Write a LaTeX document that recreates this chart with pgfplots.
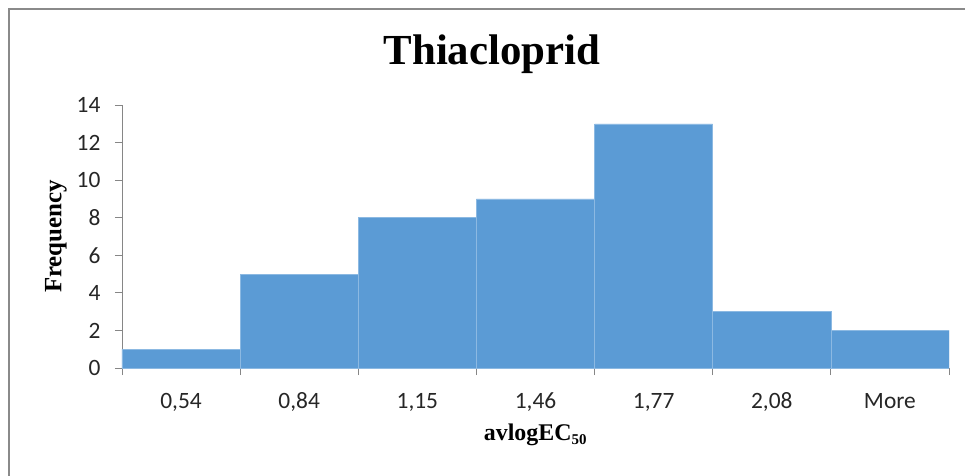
\documentclass[border=0pt]{standalone}
\usepackage{pgfplots}
\pgfplotsset{compat=1.18}
\usepackage{fontspec}
\setmainfont{Liberation Serif}
\newfontfamily\carlito{Carlito}
\definecolor{barblue}{HTML}{5B9BD5}
\definecolor{axisgray}{HTML}{868686}
\definecolor{framegray}{HTML}{8A8A8A}
\begin{document}
\begin{tikzpicture}
\path[use as bounding box] (-122bp,-108bp) rectangle (843bp,368bp);
\draw[framegray, line width=1.6bp] (-113bp,-120bp) -- (-113bp,359bp) -- (860bp,359bp);
\begin{axis}[
  at={(0,0)}, anchor=south west,
  scale only axis,
  width=827bp, height=263bp,
  xmin=-0.5, xmax=6.5, ymin=0, ymax=14,
  axis x line=bottom, axis y line=left,
  axis line style={axisgray, line width=0.9bp, -},
  xtick={-0.5,0.5,...,6.5},
  x tick label as interval,
  xticklabels={{0,54},{0,84},{1,15},{1,46},{1,77},{2,08},{More}},
  ytick={0,2,...,14},
  tick align=outside,
  major tick length=7bp,
  tick style={axisgray, line width=0.9bp},
  /pgf/number format/assume math mode=true,
  ticklabel style={font=\carlito\fontsize{23.5}{25}\selectfont, text=black!85},
  xticklabel style={text height=15bp, text depth=4bp, anchor=north, yshift=-15bp},
  yticklabel style={xshift=-11bp},
  title={\fontsize{43}{46}\selectfont\bfseries Thiacloprid},
  title style={at={(axis description cs:0.4474,1)}, anchor=center, yshift=45bp},
  xlabel={\fontsize{24}{26}\selectfont\bfseries avlogEC\textsubscript{\fontsize{15}{15}\selectfont 50}},
  every axis x label/.style={at={(axis description cs:0.5,-0.2548)}, anchor=center},
  ylabel={\fontsize{25}{27}\selectfont\bfseries Frequency},
  every axis y label/.style={at={(axis description cs:-0.0798,0.5)}, rotate=90, anchor=center},
]
\addplot[ybar, bar width=1, fill=barblue, draw=barblue!70!white, line width=0.5bp]
  coordinates {(0,1) (1,5) (2,8) (3,9) (4,13) (5,3) (6,2)};
\end{axis}
\end{tikzpicture}
\end{document}
